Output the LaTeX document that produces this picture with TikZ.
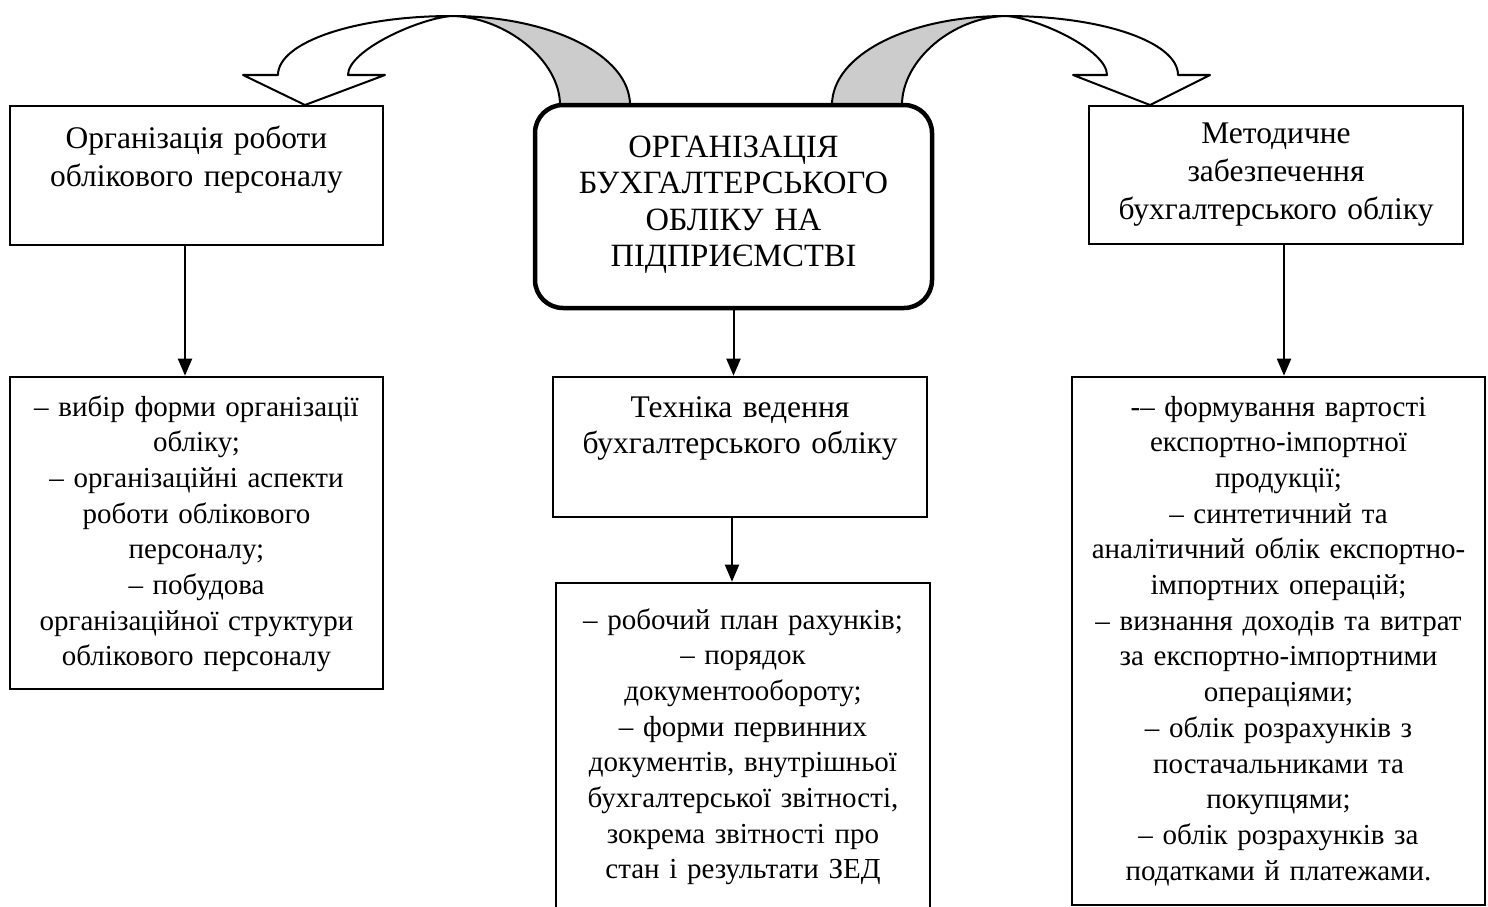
\documentclass[tikz,border=0pt]{standalone}
\usepackage{fontspec}
\setmainfont{Liberation Serif}
\usetikzlibrary{arrows.meta}
\begin{document}
\begin{tikzpicture}[x=1pt,y=-1pt,
  frame/.style={draw, line width=2.6pt, inner sep=0pt},
  txt/.style={text width=#1, align=center, inner sep=0pt, anchor=base,
    font=\fontsize{29}{35.7}\selectfont},
  toptxt/.style={text width=#1, align=center, inner sep=0pt, anchor=base,
    font=\fontsize{31.5}{38.3}\selectfont},
  arr/.style={line width=2pt, -{Triangle[width=14pt,length=17pt]}},
  bent/.style={line width=2pt, draw=black, line join=round}]
\useasboundingbox (0,0) rectangle (1488,907);

% curved block arrows
\filldraw[bent, fill=white] (243,75) -- (278,75)
  .. controls (278,42) and (356,16) .. (452,16)
  .. controls (420,18) and (348,50) .. (348,75)
  -- (385,75) -- (305,105) -- cycle;
\filldraw[bent, fill=gray!40] (452,16)
  .. controls (505,17) and (560,60) .. (560,105)
  -- (630,105)
  .. controls (630,55) and (550,16) .. (452,16) -- cycle;

\filldraw[bent, fill=gray!40] (832,105)
  .. controls (832,55) and (908,16) .. (1006,16)
  .. controls (953,17) and (902,60) .. (902,105) -- cycle;
\filldraw[bent, fill=white] (1006,16)
  .. controls (1102,16) and (1178,42) .. (1178,75)
  -- (1210,75) -- (1150,105) -- (1073,75) -- (1107,75)
  .. controls (1107,50) and (1038,18) .. (1006,16) -- cycle;

% frames
\node[frame, minimum width=373pt, minimum height=139pt] (lt) at (196.5,175.5) {};
\node[frame, line width=4.5pt, rounded corners=28pt, minimum width=397pt, minimum height=203pt] (ct) at (733.5,206.5) {};
\node[frame, minimum width=374pt, minimum height=138pt] (rt) at (1276,175) {};
\node[frame, minimum width=373pt, minimum height=312pt] (lb) at (196.5,533) {};
\node[frame, minimum width=374pt, minimum height=140pt] (cm) at (740,447) {};
\node[frame, minimum width=374pt, minimum height=332pt] (cb) at (743,749) {};
\node[frame, minimum width=413pt, minimum height=528pt] (rb) at (1278.5,641) {};

% texts
\node[toptxt=380pt] (tlt) at (196.5,148) {Організація роботи\\облікового персоналу};
\node[txt=400pt, font=\fontsize{32.5}{36.6}\selectfont] (tct) at (733.5,157)
  {ОРГАНІЗАЦІЯ\\БУХГАЛТЕРСЬКОГО\\ОБЛІКУ НА\\ПІДПРИЄМСТВІ};
\node[toptxt=380pt] (trt) at (1276,143) {Методичне\\забезпечення\\бухгалтерського обліку};
\node[txt=400pt] (tlb) at (196.5,416) {– вибір форми організації\\обліку;\\– організаційні аспекти\\роботи облікового\\персоналу;\\– побудова\\організаційної структури\\облікового персоналу};
\node[txt=400pt, font=\fontsize{31.5}{36}\selectfont] (tcm) at (740,417) {Техніка ведення\\бухгалтерського обліку};
\node[txt=400pt] (tcb) at (743,629) {– робочий план рахунків;\\– порядок\\документообороту;\\– форми первинних\\документів, внутрішньої\\бухгалтерської звітності,\\зокрема звітності про\\стан і результати ЗЕД};
\node[txt=440pt] (trb) at (1278.5,416) {-– формування вартості\\експортно-імпортної\\продукції;\\– синтетичний та\\аналітичний облік експортно-\\імпортних операцій;\\– визнання доходів та витрат\\за експортно-імпортними\\операціями;\\– облік розрахунків з\\постачальниками та\\покупцями;\\– облік розрахунків за\\податками й платежами.};

% connectors
\draw[arr] ([xshift=-11.5pt]lt.south) -- ([xshift=-11.5pt]lt.south |- lb.north);
\draw[arr] (ct.south) -- (ct.south |- cm.north);
\draw[arr] ([xshift=-8pt]cm.south) -- ([xshift=-8pt]cm.south |- cb.north);
\draw[arr] ([xshift=8pt]rt.south) -- ([xshift=8pt]rt.south |- rb.north);
\end{tikzpicture}
\end{document}
